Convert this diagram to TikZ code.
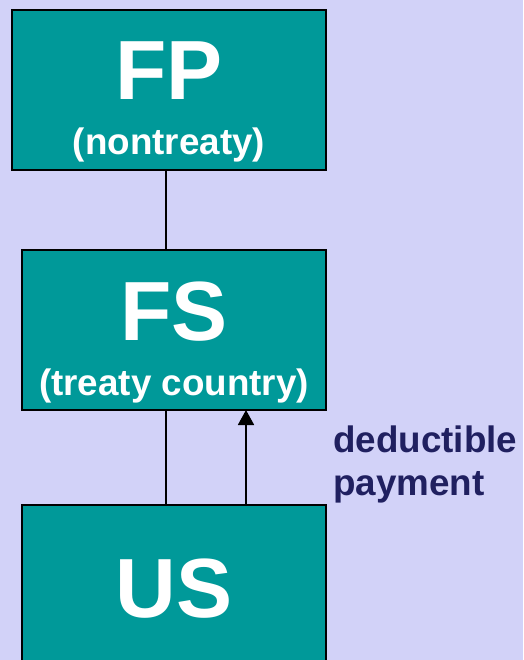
\documentclass[tikz,border=0pt]{standalone}
\usepackage{fontspec}
\setmainfont{Liberation Sans}
\usetikzlibrary{arrows.meta}
\definecolor{bgc}{HTML}{D2D2F8}
\definecolor{teal}{HTML}{009999}
\definecolor{navy}{HTML}{202060}
\tikzset{
  box/.style={draw=black, line width=2pt, fill=teal, rectangle, inner sep=0pt},
  bigtxt/.style={anchor=base, text=white, font=\fontsize{84}{96}\selectfont\bfseries, inner sep=0pt},
  smalltxt/.style={anchor=base, text=white, font=\fontsize{36.8}{43}\selectfont\bfseries, inner sep=0pt},
  conn/.style={draw=black, line width=1.8pt},
}
\begin{document}
\begin{tikzpicture}[x=1pt,y=-1pt]
\useasboundingbox (0,0) rectangle (523,660);
\clip (0,0) rectangle (523,660);
\fill[bgc] (0,0) rectangle (523,660);
% boxes
\node[box, minimum width=314pt, minimum height=160pt] (fp) at (169,90) {};
\node[box, minimum width=304pt, minimum height=160pt] (fs) at (174,330) {};
\node[box, minimum width=304pt, minimum height=180pt] (us) at (174,595) {};
% texts
\node[bigtxt] (fpt) at (169,100) {FP};
\node[smalltxt] (fpn) at (169,155) {(nontreaty)};
\node[bigtxt] (fst) at (174,340) {FS};
\node[smalltxt] (fsn) at (174,395) {(treaty country)};
\node[bigtxt] (ust) at (174,617) {US};
% connectors
\coordinate (fpb) at (166,170);
\coordinate (fstop) at (166,250);
\coordinate (fsb) at (166,410);
\coordinate (ustop) at (166,505);
\coordinate (arS) at (246,505);
\coordinate (arE) at (246,410);
\draw[conn] (fpb) -- (fstop);
\draw[conn] (fsb) -- (ustop);
\draw[conn, -{Triangle[length=15pt,width=16pt]}] (arS) -- (arE);
% label
\node[anchor=base west, inner sep=0pt, text=navy, font=\fontsize{36.8}{43}\selectfont\bfseries] (lbl) at (333,452)
  {\begin{tabular}[t]{@{}l@{}}deductible\\payment\end{tabular}};
\end{tikzpicture}
\end{document}
